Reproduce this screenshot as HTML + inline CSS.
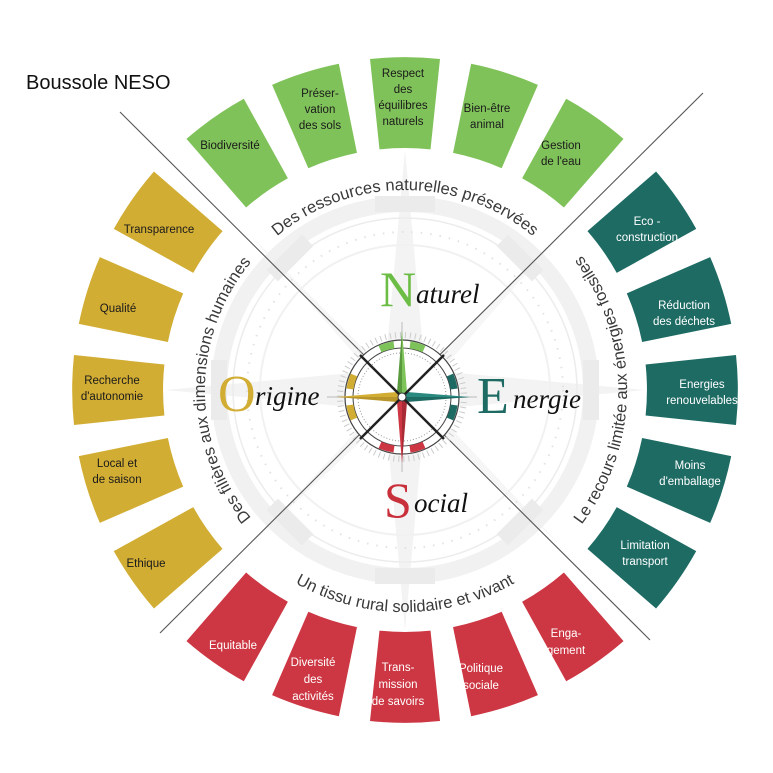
<!DOCTYPE html>
<html><head><meta charset="utf-8"><style>
html,body{margin:0;padding:0;background:#fff;}
svg{display:block;}
.seg text{font-family:"Liberation Sans",sans-serif;font-size:11.5px;text-anchor:middle;}
.arc{font-family:"Liberation Sans",sans-serif;font-size:16.5px;fill:#3a3a3a;}
.big{font-family:"Liberation Serif",serif;}
</style></head><body>
<svg width="773" height="773" viewBox="0 0 773 773" xmlns="http://www.w3.org/2000/svg">
<defs>
<path id="seg" d="M370,59 A333,333 0 0 1 440,59 L430.5,149.4 A242,242 0 0 0 379.5,149.4 Z"/>
<path id="pTop" d="M231.8,290 A200,200 0 0 1 578.2,290"/>
<path id="pRight" d="M516,582.3 A222,222 0 0 0 516,197.7"/>
<path id="pBot" d="M212.7,501 A222,222 0 0 0 597.3,501"/>
<path id="pLeft" d="M305,563.2 A200,200 0 0 1 305,216.8"/>
</defs>

<!-- background compass decoration -->
<g fill="#f3f3f3">
<polygon points="405,150 425,370 645,390 425,410 405,630 385,410 165,390 385,370"/>
<polygon points="405,390 560,235 420,395 560,545 405,400 250,545 390,395 250,235" fill="#f6f6f6"/>
</g>
<circle cx="405" cy="390" r="186" fill="none" stroke="#f1f1f1" stroke-width="16"/>
<circle cx="405" cy="390" r="172" fill="none" stroke="#ececec" stroke-width="1.5"/>
<circle cx="405" cy="390" r="158" fill="none" stroke="#e2e2e2" stroke-width="2" stroke-dasharray="1.5 8"/>
<circle cx="405" cy="390" r="145" fill="none" stroke="#f1f1f1" stroke-width="2"/>
<g fill="#ebebeb">
<rect x="375" y="196" width="60" height="16" />
<rect x="375" y="568" width="60" height="16" />
<rect x="211" y="360" width="16" height="60" />
<rect x="583" y="360" width="16" height="60" />
<rect x="265" y="250" width="50" height="16" transform="rotate(-45 290 258)"/>
<rect x="495" y="250" width="50" height="16" transform="rotate(45 520 258)"/>
<rect x="265" y="514" width="50" height="16" transform="rotate(45 290 522)"/>
<rect x="495" y="514" width="50" height="16" transform="rotate(-45 520 522)"/>
</g>

<!-- segments -->
<g fill="#80c25a">
<use href="#seg" transform="rotate(-35 405 390)"/>
<use href="#seg" transform="rotate(-17.5 405 390)"/>
<use href="#seg"/>
<use href="#seg" transform="rotate(17.5 405 390)"/>
<use href="#seg" transform="rotate(35 405 390)"/>
</g>
<g fill="#1e6b64">
<use href="#seg" transform="rotate(55 405 390)"/>
<use href="#seg" transform="rotate(72.5 405 390)"/>
<use href="#seg" transform="rotate(90 405 390)"/>
<use href="#seg" transform="rotate(107.5 405 390)"/>
<use href="#seg" transform="rotate(125 405 390)"/>
</g>
<g fill="#cc3743">
<use href="#seg" transform="rotate(145 405 390)"/>
<use href="#seg" transform="rotate(162.5 405 390)"/>
<use href="#seg" transform="rotate(180 405 390)"/>
<use href="#seg" transform="rotate(197.5 405 390)"/>
<use href="#seg" transform="rotate(215 405 390)"/>
</g>
<g fill="#d2ad34">
<use href="#seg" transform="rotate(235 405 390)"/>
<use href="#seg" transform="rotate(252.5 405 390)"/>
<use href="#seg" transform="rotate(270 405 390)"/>
<use href="#seg" transform="rotate(287.5 405 390)"/>
<use href="#seg" transform="rotate(305 405 390)"/>
</g>

<g class="seg" fill="#1a1a1a">
<text x="230" y="149">Biodiversité</text>
<text x="320" y="97">Préser-<tspan x="320" dy="16">vation</tspan><tspan x="320" dy="16">des sols</tspan></text>
<text x="403" y="77">Respect<tspan x="403" dy="16">des</tspan><tspan x="403" dy="16">équilibres</tspan><tspan x="403" dy="16">naturels</tspan></text>
<text x="487" y="112">Bien-être<tspan x="487" dy="16">animal</tspan></text>
<text x="561" y="149">Gestion<tspan x="561" dy="16">de l'eau</tspan></text>
<text x="159" y="233">Transparence</text>
<text x="118" y="312">Qualité</text>
<text x="112" y="384">Recherche<tspan x="112" dy="16">d'autonomie</tspan></text>
<text x="117" y="467">Local et<tspan x="117" dy="16">de saison</tspan></text>
<text x="146" y="567">Ethique</text>
</g>
<g class="seg" fill="#fff">
<text x="647" y="225">Eco -<tspan x="647" dy="16">construction</tspan></text>
<text x="684" y="309">Réduction<tspan x="684" dy="16">des déchets</tspan></text>
<text x="702" y="388">Energies<tspan x="702" dy="16">renouvelables</tspan></text>
<text x="690" y="469">Moins<tspan x="690" dy="16">d'emballage</tspan></text>
<text x="645" y="549">Limitation<tspan x="645" dy="16">transport</tspan></text>
<text x="233" y="649">Equitable</text>
<text x="313" y="666">Diversité<tspan x="313" dy="17">des</tspan><tspan x="313" dy="17">activités</tspan></text>
<text x="398" y="671">Trans-<tspan x="398" dy="17">mission</tspan><tspan x="398" dy="17">de savoirs</tspan></text>
<text x="481" y="672">Politique<tspan x="481" dy="17">sociale</tspan></text>
<text x="566" y="637">Enga-<tspan x="566" dy="17">gement</tspan></text>
</g>

<!-- arc labels -->
<text class="arc"><textPath href="#pTop" startOffset="50%" text-anchor="middle">Des ressources naturelles préservées</textPath></text>
<text class="arc"><textPath href="#pRight" startOffset="50%" text-anchor="middle">Le recours limitée aux énergies fossiles</textPath></text>
<text class="arc"><textPath href="#pBot" startOffset="50%" text-anchor="middle">Un tissu rural solidaire et vivant</textPath></text>
<text class="arc"><textPath href="#pLeft" startOffset="50%" text-anchor="middle">Des filières aux dimensions humaines</textPath></text>

<!-- diagonal lines -->
<line x1="120" y1="112" x2="650" y2="640" stroke="#555" stroke-width="1.1"/>
<line x1="703" y1="93" x2="160" y2="633" stroke="#555" stroke-width="1.1"/>

<!-- compass -->
<g>
<g stroke="#bbb" stroke-width="1">
<line x1="402" y1="322" x2="402" y2="472"/><line x1="327" y1="397" x2="477" y2="397"/>
</g>
<circle cx="402" cy="397" r="62" fill="none" stroke="#ccc" stroke-width="6" stroke-dasharray="1 4"/>
<circle cx="402" cy="397" r="57" fill="#fff" stroke="#444" stroke-width="1.2"/>
<circle cx="402" cy="397" r="49" fill="none" stroke="#444" stroke-width="1"/>
<circle cx="402" cy="397" r="44" fill="none" stroke="#999" stroke-width="1" stroke-dasharray="1 2"/>
<g stroke-width="7" fill="none">
<path d="M380,349 A53,53 0 0 1 394,345" stroke="#7dc35a"/>
<path d="M410,345 A53,53 0 0 1 424,349" stroke="#7dc35a"/>
<path d="M450,375 A53,53 0 0 1 454,389" stroke="#1e6b64"/>
<path d="M454,405 A53,53 0 0 1 450,419" stroke="#1e6b64"/>
<path d="M424,445 A53,53 0 0 1 410,449" stroke="#cc3743"/>
<path d="M394,449 A53,53 0 0 1 380,445" stroke="#cc3743"/>
<path d="M354,419 A53,53 0 0 1 350,405" stroke="#d2ad34"/>
<path d="M350,389 A53,53 0 0 1 354,375" stroke="#d2ad34"/>
</g>
<polygon points="402,330 407,392 402,397" fill="#7dc35a"/><polygon points="402,330 397,392 402,397" fill="#5a9a3e"/>
<polygon points="470,397 407,402 402,397" fill="#1e6b64"/><polygon points="470,397 407,392 402,397" fill="#2b8a80"/>
<polygon points="402,463 397,402 402,397" fill="#cc3743"/><polygon points="402,463 407,402 402,397" fill="#a82a34"/>
<polygon points="336,397 397,392 402,397" fill="#d2ad34"/><polygon points="336,397 397,402 402,397" fill="#b8952a"/>
<g stroke="#222" stroke-width="2.5">
<line x1="360" y1="355" x2="444" y2="439"/><line x1="444" y1="355" x2="360" y2="439"/>
</g>
<circle cx="402" cy="397" r="4" fill="#fff" stroke="#333"/>
</g>

<!-- cardinal labels -->
<text class="big" x="380" y="306" font-size="50" fill="#6cbd45">N</text>
<text class="big" x="416" y="303" font-size="27" font-style="italic" fill="#111">aturel</text>
<text class="big" x="477" y="413" font-size="52" fill="#1e6b64">E</text>
<text class="big" x="513" y="408" font-size="27" font-style="italic" fill="#111">nergie</text>
<text class="big" x="218" y="411" font-size="52" fill="#d2ad34">O</text>
<text class="big" x="255" y="405" font-size="27" font-style="italic" fill="#111">rigine</text>
<text class="big" x="384" y="517" font-size="50" fill="#c8303b">S</text>
<text class="big" x="414" y="512" font-size="27" font-style="italic" fill="#111">ocial</text>

<text x="26" y="89" font-family="Liberation Sans, sans-serif" font-size="20" fill="#111">Boussole NESO</text>
</svg>
</body></html>
